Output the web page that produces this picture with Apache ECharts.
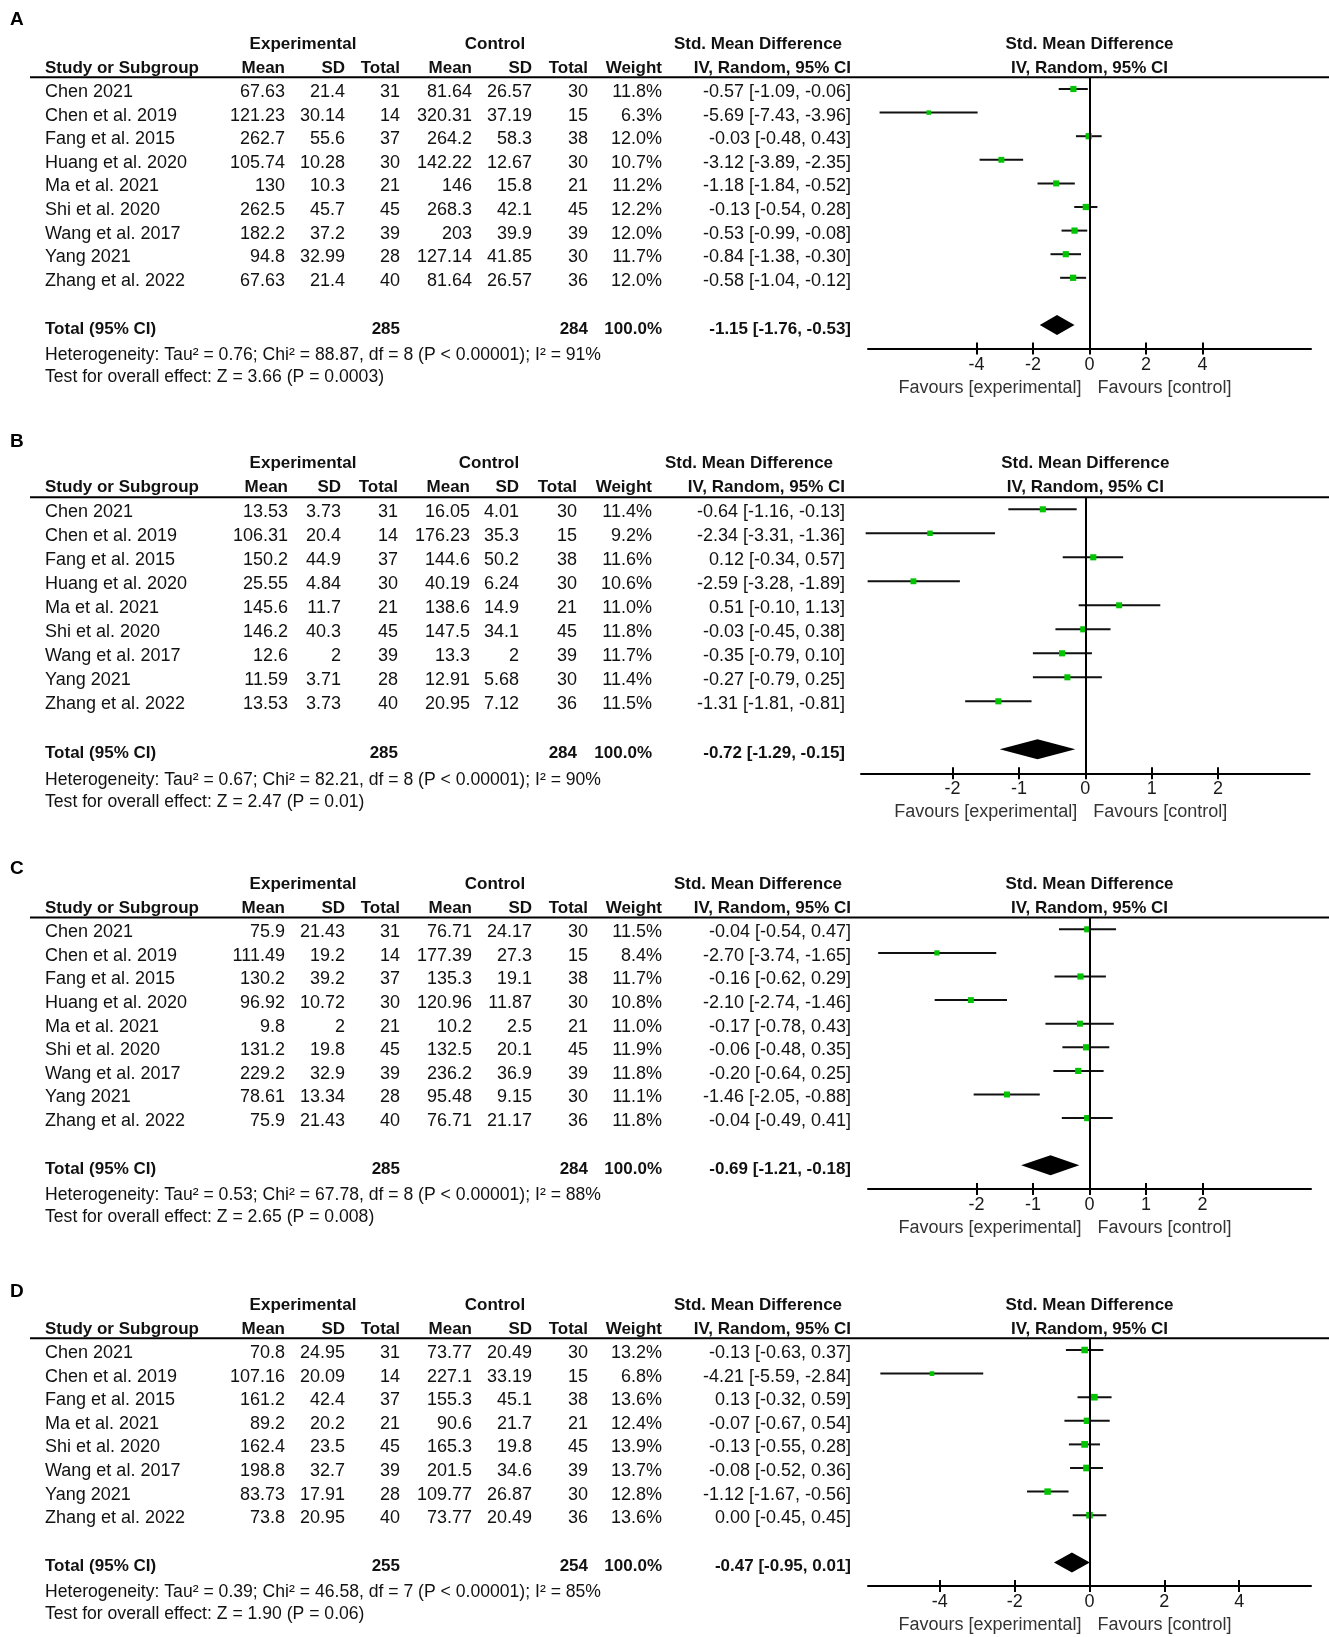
<!DOCTYPE html>
<html><head><meta charset="utf-8">
<script src="https://cdn.jsdelivr.net/npm/echarts@6/dist/echarts.min.js"></script>
<style>html,body{margin:0;padding:0;background:#fff}#c{width:1329px;height:1637px}</style>
</head><body><div id="c"></div><script>
// ---------------- DATA ----------------
const studies9 = ["Chen 2021","Chen et al. 2019","Fang et al. 2015","Huang et al. 2020","Ma et al. 2021","Shi et al. 2020","Wang et al. 2017","Yang 2021","Zhang et al. 2022"];
const studies8 = ["Chen 2021","Chen et al. 2019","Fang et al. 2015","Ma et al. 2021","Shi et al. 2020","Wang et al. 2017","Yang 2021","Zhang et al. 2022"];

// Panel A
const aExpMean = [67.63,121.23,262.7,105.74,130,262.5,182.2,94.8,67.63];
const aExpSD = [21.4,30.14,55.6,10.28,10.3,45.7,37.2,32.99,21.4];
const aExpN = [31,14,37,30,21,45,39,28,40];
const aCtlMean = [81.64,320.31,264.2,142.22,146,268.3,203,127.14,81.64];
const aCtlSD = [26.57,37.19,58.3,12.67,15.8,42.1,39.9,41.85,26.57];
const aCtlN = [30,15,38,30,21,45,39,30,36];
const aWeight = [11.8,6.3,12.0,10.7,11.2,12.2,12.0,11.7,12.0];
const aSmd = [-0.57,-5.69,-0.03,-3.12,-1.18,-0.13,-0.53,-0.84,-0.58];
const aLo = [-1.09,-7.43,-0.48,-3.89,-1.84,-0.54,-0.99,-1.38,-1.04];
const aHi = [-0.06,-3.96,0.43,-2.35,-0.52,0.28,-0.08,-0.30,-0.12];
const aTotal = [285,284,100.0,-1.15,-1.76,-0.53];
const aHet = "Heterogeneity: Tau² = 0.76; Chi² = 88.87, df = 8 (P < 0.00001); I² = 91%";
const aTest = "Test for overall effect: Z = 3.66 (P = 0.0003)";
const aTicks = [-4,-2,0,2,4];

// Panel B
const bExpMean = [13.53,106.31,150.2,25.55,145.6,146.2,12.6,11.59,13.53];
const bExpSD = [3.73,20.4,44.9,4.84,11.7,40.3,2,3.71,3.73];
const bExpN = [31,14,37,30,21,45,39,28,40];
const bCtlMean = [16.05,176.23,144.6,40.19,138.6,147.5,13.3,12.91,20.95];
const bCtlSD = [4.01,35.3,50.2,6.24,14.9,34.1,2,5.68,7.12];
const bCtlN = [30,15,38,30,21,45,39,30,36];
const bWeight = [11.4,9.2,11.6,10.6,11.0,11.8,11.7,11.4,11.5];
const bSmd = [-0.64,-2.34,0.12,-2.59,0.51,-0.03,-0.35,-0.27,-1.31];
const bLo = [-1.16,-3.31,-0.34,-3.28,-0.10,-0.45,-0.79,-0.79,-1.81];
const bHi = [-0.13,-1.36,0.57,-1.89,1.13,0.38,0.10,0.25,-0.81];
const bTotal = [285,284,100.0,-0.72,-1.29,-0.15];
const bHet = "Heterogeneity: Tau² = 0.67; Chi² = 82.21, df = 8 (P < 0.00001); I² = 90%";
const bTest = "Test for overall effect: Z = 2.47 (P = 0.01)";
const bTicks = [-2,-1,0,1,2];

// Panel C
const cExpMean = [75.9,111.49,130.2,96.92,9.8,131.2,229.2,78.61,75.9];
const cExpSD = [21.43,19.2,39.2,10.72,2,19.8,32.9,13.34,21.43];
const cExpN = [31,14,37,30,21,45,39,28,40];
const cCtlMean = [76.71,177.39,135.3,120.96,10.2,132.5,236.2,95.48,76.71];
const cCtlSD = [24.17,27.3,19.1,11.87,2.5,20.1,36.9,9.15,21.17];
const cCtlN = [30,15,38,30,21,45,39,30,36];
const cWeight = [11.5,8.4,11.7,10.8,11.0,11.9,11.8,11.1,11.8];
const cSmd = [-0.04,-2.70,-0.16,-2.10,-0.17,-0.06,-0.20,-1.46,-0.04];
const cLo = [-0.54,-3.74,-0.62,-2.74,-0.78,-0.48,-0.64,-2.05,-0.49];
const cHi = [0.47,-1.65,0.29,-1.46,0.43,0.35,0.25,-0.88,0.41];
const cTotal = [285,284,100.0,-0.69,-1.21,-0.18];
const cHet = "Heterogeneity: Tau² = 0.53; Chi² = 67.78, df = 8 (P < 0.00001); I² = 88%";
const cTest = "Test for overall effect: Z = 2.65 (P = 0.008)";
const cTicks = [-2,-1,0,1,2];

// Panel D
const dExpMean = [70.8,107.16,161.2,89.2,162.4,198.8,83.73,73.8];
const dExpSD = [24.95,20.09,42.4,20.2,23.5,32.7,17.91,20.95];
const dExpN = [31,14,37,21,45,39,28,40];
const dCtlMean = [73.77,227.1,155.3,90.6,165.3,201.5,109.77,73.77];
const dCtlSD = [20.49,33.19,45.1,21.7,19.8,34.6,26.87,20.49];
const dCtlN = [30,15,38,21,45,39,30,36];
const dWeight = [13.2,6.8,13.6,12.4,13.9,13.7,12.8,13.6];
const dSmd = [-0.13,-4.21,0.13,-0.07,-0.13,-0.08,-1.12,0.00];
const dLo = [-0.63,-5.59,-0.32,-0.67,-0.55,-0.52,-1.67,-0.45];
const dHi = [0.37,-2.84,0.59,0.54,0.28,0.36,-0.56,0.45];
const dTotal = [255,254,100.0,-0.47,-0.95,0.01];
const dHet = "Heterogeneity: Tau² = 0.39; Chi² = 46.58, df = 7 (P < 0.00001); I² = 85%";
const dTest = "Test for overall effect: Z = 1.90 (P = 0.06)";
const dTicks = [-4,-2,0,2,4];

// ---------------- LAYOUT ----------------
const FONT = '"Liberation Sans", Arial, Helvetica, sans-serif';
const colsA = {study:45, expMean:285, expSD:345, expTot:400, ctlMean:472, ctlSD:532, ctlTot:588, weight:662, ci:851, expHead:303, ctlHead:495, smdHead:758};
const colsB = {study:45, expMean:288, expSD:341, expTot:398, ctlMean:470, ctlSD:519, ctlTot:577, weight:652, ci:845, expHead:303, ctlHead:489, smdHead:749};

const panels = [
  {label:'A', studies:studies9, em:aExpMean, es:aExpSD, en:aExpN, cm:aCtlMean, cs:aCtlSD, cn:aCtlN, w:aWeight, smd:aSmd, lo:aLo, hi:aHi, tot:aTotal, het:aHet, test:aTest, ticks:aTicks,
   L:{r0:89, step:23.6, labelY:20, left:868, right:1311, xr:7.84, cols:colsA}},
  {label:'B', studies:studies9, em:bExpMean, es:bExpSD, en:bExpN, cm:bCtlMean, cs:bCtlSD, cn:bCtlN, w:bWeight, smd:bSmd, lo:bLo, hi:bHi, tot:bTotal, het:bHet, test:bTest, ticks:bTicks,
   L:{r0:509.3, step:24.0, labelY:441.7, left:861, right:1309.6, xr:3.38, cols:colsB}},
  {label:'C', studies:studies9, em:cExpMean, es:cExpSD, en:cExpN, cm:cCtlMean, cs:cCtlSD, cn:cCtlN, w:cWeight, smd:cSmd, lo:cLo, hi:cHi, tot:cTotal, het:cHet, test:cTest, ticks:cTicks,
   L:{r0:929.3, step:23.6, labelY:869, left:868, right:1311, xr:3.92, cols:colsA}},
  {label:'D', studies:studies8, em:dExpMean, es:dExpSD, en:dExpN, cm:dCtlMean, cs:dCtlSD, cn:dCtlN, w:dWeight, smd:dSmd, lo:dLo, hi:dHi, tot:dTotal, het:dHet, test:dTest, ticks:dTicks,
   L:{r0:1350, step:23.6, labelY:1291.6, left:868, right:1311, xr:5.92, cols:colsA}}
];

function f2(v){ return (Math.abs(v) < 0.005 ? 0 : v).toFixed(2); }
function ciText(e,l,h){ return f2(e)+' ['+f2(l)+', '+f2(h)+']'; }

const grids = [], xAxes = [], yAxes = [], series = [], graphics = [];

panels.forEach((p, i) => {
  const L = p.L, C = L.cols;
  const N = p.studies.length;
  const totIdx = N + 1;
  const top = L.r0 - L.step / 2;
  const height = (totIdx + 1.5) * L.step;
  grids.push({left: L.left, top: top, width: L.right - L.left, height: height, outerBoundsMode: 'none', containLabel: false});
  xAxes.push({
    gridIndex: i, type: 'value', min: -L.xr, max: L.xr, position: 'bottom',
    axisLine: {show: true, onZero: false, lineStyle: {color: '#000', width: 2}},
    axisTick: {show: true, customValues: p.ticks, length: 6, lineStyle: {color: '#000', width: 2}},
    axisLabel: {show: true, customValues: p.ticks, margin: 7, fontSize: 18, color: '#1a1a1a', fontFamily: FONT},
    splitLine: {show: false}
  });
  xAxes.push({
    gridIndex: i, type: 'value', min: -L.xr, max: L.xr, position: 'bottom',
    axisLine: {show: false, onZero: false},
    axisTick: {show: true, inside: true, customValues: p.ticks, length: 6, lineStyle: {color: '#000', width: 2}},
    axisLabel: {show: false}, splitLine: {show: false}
  });
  yAxes.push({gridIndex: i, type: 'value', inverse: true, min: -0.5, max: totIdx + 1, show: false});

  // study CIs + weight squares
  series.push({
    type: 'custom', xAxisIndex: 2 * i, yAxisIndex: i, clip: false, silent: true,
    data: p.smd.map((e, k) => [e, k, p.lo[k], p.hi[k], p.w[k]]),
    renderItem: (params, api) => {
      const y = api.value(1);
      const c = api.coord([api.value(0), y]);
      const a = api.coord([api.value(2), y]);
      const b = api.coord([api.value(3), y]);
      const s = 1.8 * Math.sqrt(api.value(4));
      return {type: 'group', children: [
        {type: 'line', shape: {x1: a[0], y1: a[1], x2: b[0], y2: b[1]}, style: {stroke: '#111', lineWidth: 2}},
        {type: 'rect', shape: {x: c[0] - s / 2, y: c[1] - s / 2, width: s, height: s}, style: {fill: '#00c400'}}
      ]};
    },
    markLine: {silent: true, symbol: ['none', 'none'], label: {show: false},
      lineStyle: {color: '#000', width: 2, type: 'solid'}, emphasis: {disabled: true}, data: [{xAxis: 0}]}
  });

  // pooled diamond
  series.push({
    type: 'custom', xAxisIndex: 2 * i, yAxisIndex: i, clip: false, silent: true,
    data: [[p.tot[3], totIdx, p.tot[4], p.tot[5]]],
    renderItem: (params, api) => {
      const y = api.value(1);
      const c = api.coord([api.value(0), y]);
      const a = api.coord([api.value(2), y]);
      const b = api.coord([api.value(3), y]);
      const h = 10;
      return {type: 'polygon', shape: {points: [[a[0], c[1]], [c[0], c[1] - h], [b[0], c[1]], [c[0], c[1] + h]]}, style: {fill: '#000'}};
    }
  });

  // text table rows
  const B = 'bold', R = 'normal';
  const rows = [];
  rows.push({y: -2, dy: 2.5, cells: [
    {x: C.expHead, t: 'Experimental', a: 'center', w: B},
    {x: C.ctlHead, t: 'Control', a: 'center', w: B},
    {x: C.smdHead, t: 'Std. Mean Difference', a: 'center', w: B},
    {x: 'zero', t: 'Std. Mean Difference', a: 'center', w: B}
  ]});
  rows.push({y: -1, dy: 2.5, cells: [
    {x: C.study, t: 'Study or Subgroup', a: 'left', w: B},
    {x: C.expMean, t: 'Mean', a: 'right', w: B},
    {x: C.expSD, t: 'SD', a: 'right', w: B},
    {x: C.expTot, t: 'Total', a: 'right', w: B},
    {x: C.ctlMean, t: 'Mean', a: 'right', w: B},
    {x: C.ctlSD, t: 'SD', a: 'right', w: B},
    {x: C.ctlTot, t: 'Total', a: 'right', w: B},
    {x: C.weight, t: 'Weight', a: 'right', w: B},
    {x: C.ci, t: 'IV, Random, 95% CI', a: 'right', w: B},
    {x: 'zero', t: 'IV, Random, 95% CI', a: 'center', w: B}
  ]});
  p.studies.forEach((s, k) => {
    rows.push({y: k, dy: 3, cells: [
      {x: C.study, t: s, a: 'left', w: R},
      {x: C.expMean, t: String(p.em[k]), a: 'right', w: R},
      {x: C.expSD, t: String(p.es[k]), a: 'right', w: R},
      {x: C.expTot, t: String(p.en[k]), a: 'right', w: R},
      {x: C.ctlMean, t: String(p.cm[k]), a: 'right', w: R},
      {x: C.ctlSD, t: String(p.cs[k]), a: 'right', w: R},
      {x: C.ctlTot, t: String(p.cn[k]), a: 'right', w: R},
      {x: C.weight, t: p.w[k].toFixed(1) + '%', a: 'right', w: R},
      {x: C.ci, t: ciText(p.smd[k], p.lo[k], p.hi[k]), a: 'right', w: R}
    ]});
  });
  rows.push({y: totIdx, dy: 4, cells: [
    {x: C.study, t: 'Total (95% CI)', a: 'left', w: B},
    {x: C.expTot, t: String(p.tot[0]), a: 'right', w: B},
    {x: C.ctlTot, t: String(p.tot[1]), a: 'right', w: B},
    {x: C.weight, t: p.tot[2].toFixed(1) + '%', a: 'right', w: B},
    {x: C.ci, t: ciText(p.tot[3], p.tot[4], p.tot[5]), a: 'right', w: B}
  ]});
  rows.push({y: totIdx + 1, dy: 6.5, cells: [{x: C.study, t: p.het, a: 'left', w: R, fs: 17.6}]});
  rows.push({y: totIdx + 2, dy: 4.5, cells: [{x: C.study, t: p.test, a: 'left', w: R, fs: 17.6}]});
  rows.push({y: totIdx + 1, dy: 39, cells: [
    {x: 'zero', off: -8, t: 'Favours [experimental]', a: 'right', w: R, col: '#333'},
    {x: 'zero', off: 8, t: 'Favours [control]', a: 'left', w: R, col: '#333'}
  ]});

  series.push({
    type: 'custom', xAxisIndex: 2 * i, yAxisIndex: i, clip: false, silent: true,
    data: rows.map(r => [0, r.y]),
    renderItem: (params, api) => {
      const r = rows[params.dataIndex];
      const pt = api.coord([0, api.value(1)]);
      const yy = pt[1] + r.dy;
      return {type: 'group', children: r.cells.map(c => ({
        type: 'text',
        style: {
          text: c.t,
          x: (c.x === 'zero' ? pt[0] : c.x) + (c.off || 0),
          y: yy,
          align: c.a, verticalAlign: 'middle',
          fontFamily: FONT,
          fontSize: c.fs || (c.w === B ? 17 : 18),
          fontWeight: c.w,
          fill: c.col || '#111'
        }
      }))};
    }
  });

  // header rule and panel label (layout)
  graphics.push({type: 'line', shape: {x1: 30, y1: top, x2: 1329, y2: top}, style: {stroke: '#000', lineWidth: 2}, silent: true});
  graphics.push({type: 'text', x: 10, y: L.labelY, style: {text: p.label, fontFamily: FONT, fontSize: 19, fontWeight: 'bold', fill: '#000', verticalAlign: 'middle'}, silent: true});
});

const chart = echarts.init(document.getElementById('c'), null, {renderer: 'canvas'});
chart.setOption({
  backgroundColor: '#fff',
  animation: false,
  tooltip: {show: false},
  grid: grids,
  xAxis: xAxes,
  yAxis: yAxes,
  series: series,
  graphic: graphics
});
</script></body></html>
